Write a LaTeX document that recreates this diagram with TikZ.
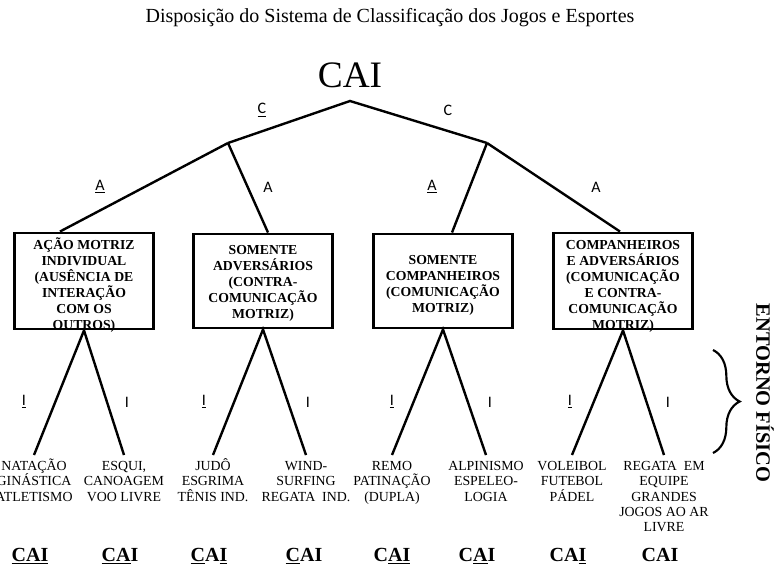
\documentclass[tikz,border=0pt]{standalone}
\usepackage{fontspec}
\setmainfont{Liberation Serif}
\newfontfamily\rotulo{Carlito}
\usetikzlibrary{calc,decorations.pathreplacing}
\newcommand\altofl{\vphantom{Ô}}

\begin{document}
\begin{tikzpicture}[x=0.75pt, y=-0.75pt,
    caixa/.style={draw, line width=2.2pt, minimum width=104.3pt, minimum height=70.5pt,
        inner sep=0pt, align=center, font=\bfseries\fontsize{10.3}{12}\selectfont},
    folha/.style={anchor=north, align=center, inner sep=2.5pt,
        font=\fontsize{10.4}{11.5}\selectfont},
    letra/.style={font=\rotulo\fontsize{12}{14}\selectfont, inner sep=1pt},
    cai/.style={font=\bfseries\fontsize{15}{17}\selectfont, inner sep=0pt, anchor=base},
    ramo/.style={line width=1.8pt}]
    \useasboundingbox (0,0) rectangle (778,571);

    % titulo e raiz
    \node (titulo) at (390,18) {\fontsize{15}{17}\selectfont Disposição do Sistema de Classificação dos Jogos e Esportes};
    \node (raiz) at (350,75) {\fontsize{28}{30}\selectfont CAI};
    \coordinate (topo) at (350,101);
    \coordinate (jc) at (228,143);
    \coordinate (jd) at (487,143);
    \draw[ramo] (jc) -- (topo) -- (jd);
    \node[letra] (c1) at (262,110) {\underline{C}};
    \node[letra] (c2) at (448,110) {C};

    % caixas
    \node[caixa, text height=72pt, text depth=-1.5pt] (b1) at (84,281)
        {AÇÃO MOTRIZ\\INDIVIDUAL\\(AUSÊNCIA DE\\INTERAÇÃO\\COM OS\\OUTROS)};
    \node[caixa, text height=63pt, text depth=7.5pt] (b2) at (263,281)
        {SOMENTE\\ADVERSÁRIOS\\(CONTRA-\\COMUNICAÇÃO\\MOTRIZ)};
    \node[caixa, text height=58.5pt, text depth=12pt] (b3) at (443,281)
        {SOMENTE\\COMPANHEIROS\\(COMUNICAÇÃO\\MOTRIZ)};
    \node[caixa, text height=72pt, text depth=-1.5pt] (b4) at (623,281)
        {COMPANHEIROS\\E ADVERSÁRIOS\\(COMUNICAÇÃO\\E CONTRA-\\COMUNICAÇÃO\\MOTRIZ)};

    \draw[ramo] (jc) -- ($(b1.north)+(-24,0)$);
    \draw[ramo] (jc) -- ($(b2.north)+(5,0)$);
    \draw[ramo] (jd) -- ($(b3.north)+(9,0)$);
    \draw[ramo] (jd) -- ($(b4.north)+(-3,0)$);
    \node[letra] (a1) at (100,187) {\underline{A}};
    \node[letra] (a2) at (268,187) {A};
    \node[letra] (a3) at (432,187) {\underline{A}};
    \node[letra] (a4) at (596,187) {A};

    % folhas
    \node[folha] (f1) at (34,455) {\altofl NATAÇÃO\\GINÁSTICA\\ATLETISMO};
    \node[folha] (f2) at (124,455) {\altofl ESQUI,\\CANOAGEM\\VOO LIVRE};
    \node[folha] (f3) at (213,455) {\altofl JUDÔ\\ESGRIMA\\TÊNIS IND.};
    \node[folha] (f4) at (306,455) {\altofl WIND-\\SURFING\\REGATA\ \ IND.};
    \node[folha] (f5) at (392,455) {\altofl REMO\\PATINAÇÃO\\(DUPLA)};
    \node[folha] (f6) at (486,455) {\altofl ALPINISMO\\ESPELEO-\\LOGIA};
    \node[folha] (f7) at (572,455) {\altofl VOLEIBOL\\FUTEBOL\\PÁDEL};
    \node[folha] (f8) at (664,455) {\altofl REGATA\ \ EM\\EQUIPE\\GRANDES\\JOGOS AO AR\\LIVRE};

    \foreach \b/\e/\d in {b1/f1/f2, b2/f3/f4, b3/f5/f6, b4/f7/f8}{
        \draw[ramo] (\e.north) -- (\b.south) -- (\d.north);
    }
    \foreach \n/\x in {1/24, 3/204, 5/392, 7/570}
        \node[letra] (i\n) at (\x,402) {\underline{I}};
    \foreach \n/\x in {2/127, 4/308, 6/490, 8/668}
        \node[letra] (i\n) at (\x,402) {I};

    % CAI de cada folha
    \node[cai] (k1) at (30,561) {\underline{CAI}};
    \node[cai] (k2) at (120,561) {\underline{CA}I};
    \node[cai] (k3) at (209,561) {\underline{C}A\underline{I}};
    \node[cai] (k4) at (304,561) {\underline{C}AI};
    \node[cai] (k5) at (392,561) {C\underline{AI}};
    \node[cai] (k6) at (477,561) {C\underline{A}I};
    \node[cai] (k7) at (568,561) {CA\underline{I}};
    \node[cai] (k8) at (660,561) {CAI};

    % entorno fisico
    \coordinate (ch1) at (713,350);
    \coordinate (ch2) at (713,453);
    \draw[line width=1.6pt, decorate, decoration={brace, amplitude=20pt}] (ch1) -- (ch2);
    \node[rotate=-90, font=\bfseries\fontsize{15.3}{17}\selectfont] (entorno) at (765,393) {ENTORNO FÍSICO};
\end{tikzpicture}
\end{document}
